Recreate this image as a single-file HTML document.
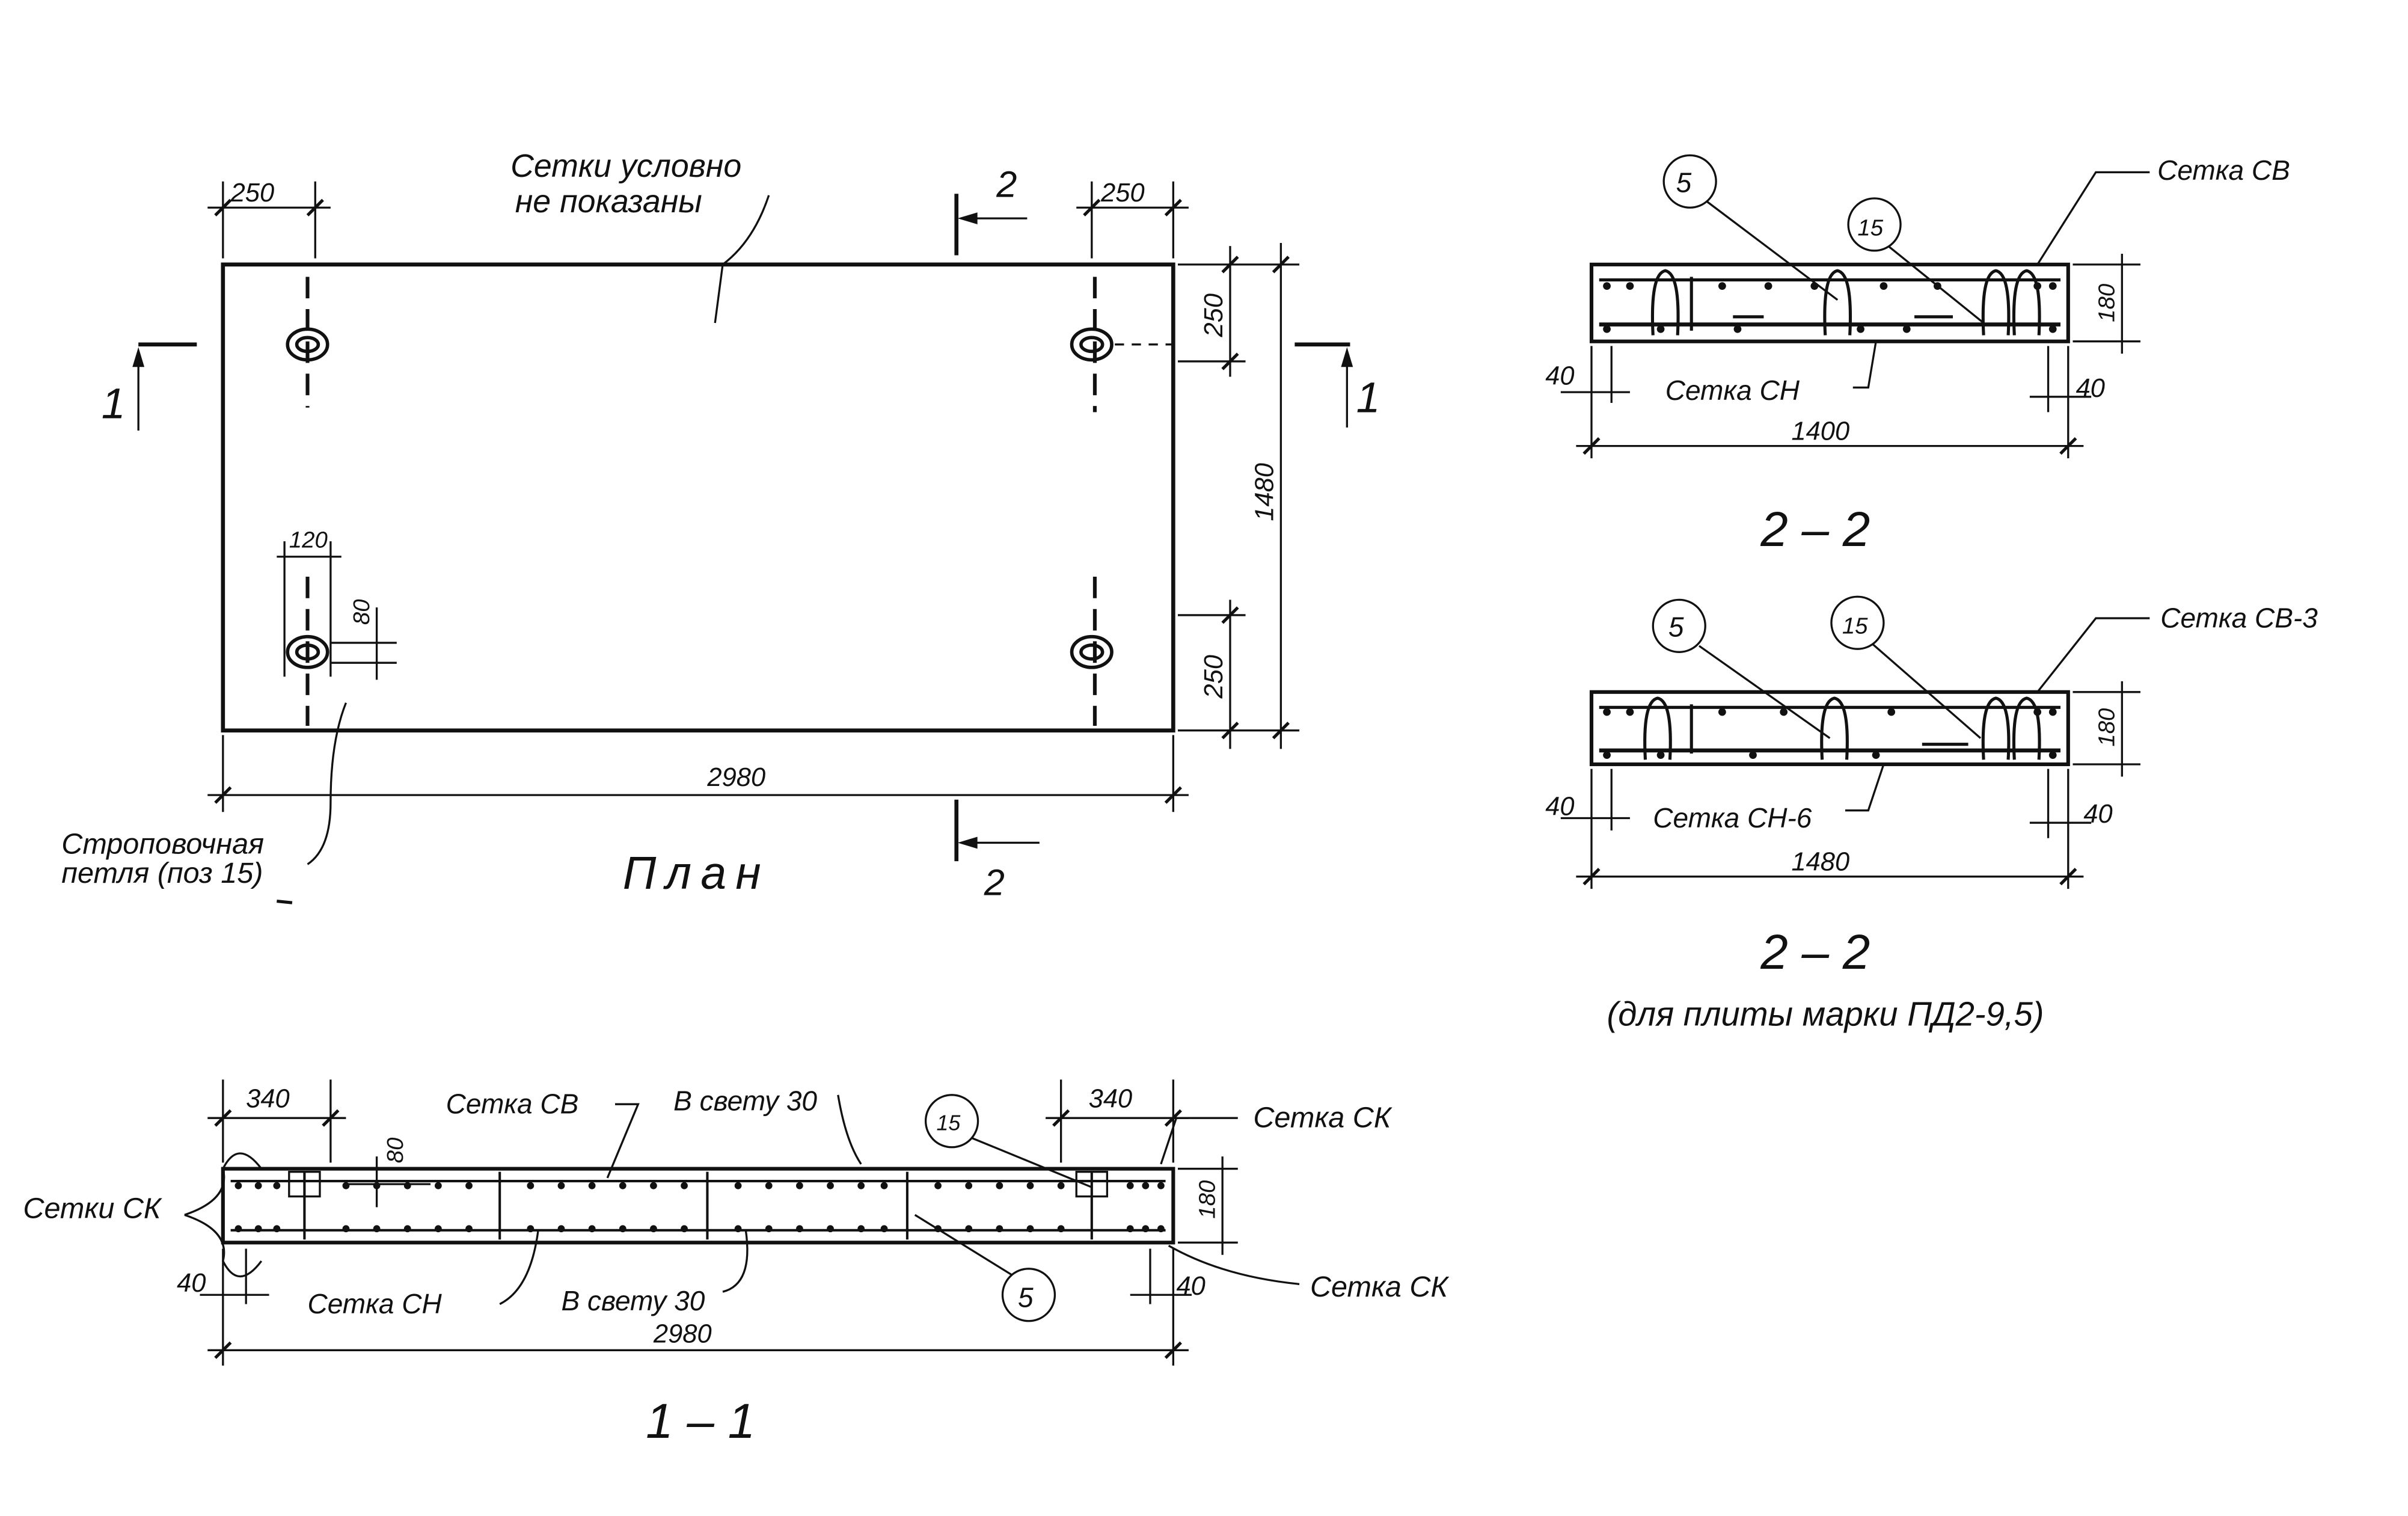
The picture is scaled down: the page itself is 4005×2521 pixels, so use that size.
<!DOCTYPE html>
<html><head><meta charset="utf-8"><style>
html,body{margin:0;padding:0;background:#fff;}
svg{display:block;}
text{font-family:"Liberation Sans",sans-serif;font-style:italic;fill:#111;}
</style></head><body>
<svg width="4005" height="2521" viewBox="0 0 1566 985.8" preserveAspectRatio="none" xmlns="http://www.w3.org/2000/svg">
<rect width="1566" height="985.8" fill="#fff"/>
<g stroke="#111" fill="none" stroke-width="1.3">
<rect x="145" y="172" width="618" height="303" stroke-width="2.6"/>
<line x1="145" y1="118" x2="145" y2="168"/><line x1="205" y1="118" x2="205" y2="168"/>
<line x1="710" y1="118" x2="710" y2="168"/><line x1="763" y1="118" x2="763" y2="168"/>
<line x1="135" y1="135" x2="215" y2="135"/><line x1="700" y1="135" x2="773" y2="135"/>
<line x1="140" y1="140" x2="150" y2="130" stroke-width="2"/><line x1="200" y1="140" x2="210" y2="130" stroke-width="2"/>
<line x1="705" y1="140" x2="715" y2="130" stroke-width="2"/><line x1="758" y1="140" x2="768" y2="130" stroke-width="2"/>
<line x1="622" y1="126" x2="622" y2="166" stroke-width="2.6"/><line x1="625" y1="142" x2="668" y2="142"/><path d="M625 142 l10 -3 v6z" fill="#111"/>
<line x1="622" y1="520" x2="622" y2="560" stroke-width="2.6"/><line x1="625" y1="548" x2="676" y2="548"/><path d="M625 548 l10 -3 v6z" fill="#111"/>
<line x1="145" y1="478" x2="145" y2="528"/><line x1="763" y1="478" x2="763" y2="528"/>
<line x1="135" y1="517" x2="773" y2="517"/>
<line x1="140" y1="522" x2="150" y2="512" stroke-width="2"/><line x1="758" y1="522" x2="768" y2="512" stroke-width="2"/>
<line x1="766" y1="172" x2="845" y2="172"/><line x1="766" y1="235" x2="810" y2="235"/>
<line x1="766" y1="400" x2="810" y2="400"/><line x1="766" y1="475" x2="845" y2="475"/>
<line x1="800" y1="160" x2="800" y2="245"/><line x1="800" y1="390" x2="800" y2="487"/>
<line x1="833" y1="158" x2="833" y2="487"/>
<line x1="795" y1="177" x2="805" y2="167" stroke-width="2"/><line x1="795" y1="240" x2="805" y2="230" stroke-width="2"/>
<line x1="795" y1="405" x2="805" y2="395" stroke-width="2"/><line x1="795" y1="480" x2="805" y2="470" stroke-width="2"/>
<line x1="828" y1="177" x2="838" y2="167" stroke-width="2"/><line x1="828" y1="480" x2="838" y2="470" stroke-width="2"/>
<g stroke-dasharray="14 7" stroke-width="2.4">
<line x1="200" y1="180" x2="200" y2="265"/><line x1="200" y1="375" x2="200" y2="472"/>
<line x1="712" y1="180" x2="712" y2="268"/><line x1="712" y1="375" x2="712" y2="472"/>
</g>
<line x1="725" y1="224" x2="765" y2="224" stroke-dasharray="6 5"/>
<g stroke-width="2.2">
<ellipse cx="200" cy="224" rx="13" ry="10"/><ellipse cx="200" cy="224" rx="7" ry="4.5"/>
<ellipse cx="710" cy="224" rx="13" ry="10"/><ellipse cx="710" cy="224" rx="7" ry="4.5"/>
<ellipse cx="200" cy="424" rx="13" ry="10"/><ellipse cx="200" cy="424" rx="7" ry="4.5"/>
<ellipse cx="710" cy="424" rx="13" ry="10"/><ellipse cx="710" cy="424" rx="7" ry="4.5"/>
</g>
<line x1="185" y1="352" x2="185" y2="440"/><line x1="215" y1="352" x2="215" y2="440"/>
<line x1="180" y1="362" x2="222" y2="362"/>
<line x1="215" y1="418" x2="258" y2="418"/><line x1="215" y1="431" x2="258" y2="431"/>
<line x1="245" y1="395" x2="245" y2="442"/>
<line x1="90" y1="224" x2="128" y2="224" stroke-width="2.6"/><line x1="90" y1="228" x2="90" y2="280"/><path d="M90 228 l-3 10 h6z" fill="#111"/>
<line x1="842" y1="224" x2="878" y2="224" stroke-width="2.6"/><line x1="876" y1="228" x2="876" y2="278"/><path d="M876 228 l-3 10 h6z" fill="#111"/>
<path d="M500 127 q-10 30 -30 45 l-5 38"/>
<path d="M200 562 q15 -10 15 -40 q0 -40 10 -65"/>
<line x1="180" y1="586" x2="190" y2="587" stroke-width="2"/>

<rect x="1035" y="172" width="310" height="50" stroke-width="2.4"/>
<line x1="1040" y1="182" x2="1340" y2="182" stroke-width="2"/>
<line x1="1040" y1="211" x2="1340" y2="211" stroke-width="2.6"/>
<g stroke-width="2">
<path d="M1075 218 q-2 -40 8 -42 q10 2 8 42"/><path d="M1187 218 q-2 -40 8 -42 q10 2 8 42"/>
<path d="M1290 218 q-2 -40 8 -42 q10 2 8 42"/><path d="M1310 218 q-2 -40 8 -42 q10 2 8 42"/>
<path d="M1100 180 v35"/><path d="M1127 206 h20 M1245 206 h25"/>
</g>
<circle cx="1099" cy="118" r="17"/><circle cx="1219" cy="146" r="17"/>
<line x1="1110" y1="131" x2="1195" y2="195"/><line x1="1228" y1="160" x2="1290" y2="210"/>
<path d="M1398 112 h-35 l-38 60"/>
<path d="M1220 222 l-5 30 h-10"/>
<line x1="1035" y1="225" x2="1035" y2="298"/><line x1="1345" y1="225" x2="1345" y2="298"/>
<line x1="1048" y1="225" x2="1048" y2="262"/><line x1="1332" y1="225" x2="1332" y2="268"/>
<line x1="1015" y1="255" x2="1060" y2="255"/><line x1="1320" y1="258" x2="1360" y2="258"/>
<line x1="1025" y1="290" x2="1355" y2="290"/>
<line x1="1030" y1="295" x2="1040" y2="285" stroke-width="2"/><line x1="1340" y1="295" x2="1350" y2="285" stroke-width="2"/>
<line x1="1348" y1="172" x2="1392" y2="172"/><line x1="1348" y1="222" x2="1392" y2="222"/>
<line x1="1380" y1="165" x2="1380" y2="230"/>

<rect x="1035" y="450" width="310" height="47" stroke-width="2.4"/>
<line x1="1040" y1="460" x2="1340" y2="460" stroke-width="2"/>
<line x1="1040" y1="488" x2="1340" y2="488" stroke-width="2.6"/>
<g stroke-width="2">
<path d="M1070 494 q-2 -38 8 -40 q10 2 8 40"/><path d="M1185 494 q-2 -38 8 -40 q10 2 8 40"/>
<path d="M1290 494 q-2 -38 8 -40 q10 2 8 40"/><path d="M1310 494 q-2 -38 8 -40 q10 2 8 40"/>
<path d="M1100 458 v32 M1250 484 h30"/>
</g>
<circle cx="1092" cy="407" r="17"/><circle cx="1208" cy="405" r="17"/>
<line x1="1105" y1="420" x2="1190" y2="480"/><line x1="1218" y1="419" x2="1288" y2="480"/>
<path d="M1398 402 h-35 l-38 48"/>
<path d="M1225 497 l-10 30 h-15"/>
<line x1="1035" y1="500" x2="1035" y2="578"/><line x1="1345" y1="500" x2="1345" y2="578"/>
<line x1="1048" y1="500" x2="1048" y2="540"/><line x1="1332" y1="500" x2="1332" y2="545"/>
<line x1="1015" y1="532" x2="1060" y2="532"/><line x1="1320" y1="535" x2="1360" y2="535"/>
<line x1="1025" y1="570" x2="1355" y2="570"/>
<line x1="1030" y1="575" x2="1040" y2="565" stroke-width="2"/><line x1="1340" y1="575" x2="1350" y2="565" stroke-width="2"/>
<line x1="1348" y1="450" x2="1392" y2="450"/><line x1="1348" y1="497" x2="1392" y2="497"/>
<line x1="1380" y1="443" x2="1380" y2="505"/>

<rect x="145" y="760" width="618" height="48" stroke-width="2.4"/>
<line x1="150" y1="768" x2="758" y2="768" stroke-width="1.6"/>
<line x1="150" y1="800" x2="758" y2="800" stroke-width="1.6"/>
<g stroke-width="1.6"><line x1="198" y1="762" x2="198" y2="806"/><line x1="325" y1="762" x2="325" y2="806"/>
<line x1="460" y1="762" x2="460" y2="806"/><line x1="590" y1="762" x2="590" y2="806"/><line x1="710" y1="762" x2="710" y2="806"/></g>
<rect x="188" y="762" width="20" height="16"/><rect x="700" y="762" width="20" height="16"/>
<line x1="145" y1="702" x2="145" y2="756"/><line x1="215" y1="702" x2="215" y2="756"/>
<line x1="690" y1="702" x2="690" y2="756"/><line x1="763" y1="702" x2="763" y2="756"/>
<line x1="135" y1="727" x2="225" y2="727"/><line x1="680" y1="727" x2="773" y2="727"/>
<line x1="140" y1="732" x2="150" y2="722" stroke-width="2"/><line x1="210" y1="732" x2="220" y2="722" stroke-width="2"/>
<line x1="685" y1="732" x2="695" y2="722" stroke-width="2"/><line x1="758" y1="732" x2="768" y2="722" stroke-width="2"/>
<line x1="245" y1="752" x2="245" y2="785"/><line x1="225" y1="770" x2="280" y2="770"/>
<path d="M400 718 h15 l-20 48"/>
<path d="M545 712 q5 30 15 45"/>
<circle cx="619" cy="729" r="17"/><line x1="632" y1="740" x2="710" y2="772"/>
<path d="M805 727 h-40 l-10 30"/>
<path d="M120 790 q30 -10 25 -30 q10 -20 25 0 M120 790 q30 10 25 30 q10 20 25 0"/>
<path d="M325 848 q20 -10 25 -48"/>
<path d="M470 840 q20 -5 15 -40"/>
<circle cx="669" cy="842" r="17"/><line x1="658" y1="829" x2="595" y2="790"/>
<path d="M845 835 q-50 -5 -85 -25"/>
<line x1="145" y1="812" x2="145" y2="888"/><line x1="763" y1="812" x2="763" y2="888"/>
<line x1="160" y1="812" x2="160" y2="848"/><line x1="748" y1="812" x2="748" y2="848"/>
<line x1="130" y1="842" x2="175" y2="842"/><line x1="735" y1="842" x2="775" y2="842"/>
<line x1="135" y1="878" x2="773" y2="878"/>
<line x1="140" y1="883" x2="150" y2="873" stroke-width="2"/><line x1="758" y1="883" x2="768" y2="873" stroke-width="2"/>
<line x1="766" y1="760" x2="805" y2="760"/><line x1="766" y1="808" x2="805" y2="808"/>
<line x1="795" y1="752" x2="795" y2="816"/>
</g>
<g fill="#111">
<circle cx="1045" cy="186" r="2.5"/><circle cx="1060" cy="186" r="2.5"/><circle cx="1120" cy="186" r="2.5"/><circle cx="1150" cy="186" r="2.5"/><circle cx="1180" cy="186" r="2.5"/><circle cx="1225" cy="186" r="2.5"/><circle cx="1260" cy="186" r="2.5"/><circle cx="1325" cy="186" r="2.5"/><circle cx="1335" cy="186" r="2.5"/>
<circle cx="1045" cy="214" r="2.5"/><circle cx="1080" cy="214" r="2.5"/><circle cx="1130" cy="214" r="2.5"/><circle cx="1210" cy="214" r="2.5"/><circle cx="1240" cy="214" r="2.5"/><circle cx="1335" cy="214" r="2.5"/>
<circle cx="1045" cy="463" r="2.5"/><circle cx="1060" cy="463" r="2.5"/><circle cx="1120" cy="463" r="2.5"/><circle cx="1160" cy="463" r="2.5"/><circle cx="1230" cy="463" r="2.5"/><circle cx="1325" cy="463" r="2.5"/><circle cx="1335" cy="463" r="2.5"/>
<circle cx="1045" cy="491" r="2.5"/><circle cx="1080" cy="491" r="2.5"/><circle cx="1140" cy="491" r="2.5"/><circle cx="1220" cy="491" r="2.5"/><circle cx="1335" cy="491" r="2.5"/>
</g>
<g fill="#111">
<circle cx="155" cy="771" r="2.3"/><circle cx="168" cy="771" r="2.3"/><circle cx="180" cy="771" r="2.3"/>
<circle cx="225" cy="771" r="2.3"/><circle cx="245" cy="771" r="2.3"/><circle cx="265" cy="771" r="2.3"/><circle cx="285" cy="771" r="2.3"/><circle cx="305" cy="771" r="2.3"/><circle cx="345" cy="771" r="2.3"/><circle cx="365" cy="771" r="2.3"/><circle cx="385" cy="771" r="2.3"/><circle cx="405" cy="771" r="2.3"/><circle cx="425" cy="771" r="2.3"/><circle cx="445" cy="771" r="2.3"/><circle cx="480" cy="771" r="2.3"/><circle cx="500" cy="771" r="2.3"/><circle cx="520" cy="771" r="2.3"/><circle cx="540" cy="771" r="2.3"/><circle cx="560" cy="771" r="2.3"/><circle cx="575" cy="771" r="2.3"/><circle cx="610" cy="771" r="2.3"/><circle cx="630" cy="771" r="2.3"/><circle cx="650" cy="771" r="2.3"/><circle cx="670" cy="771" r="2.3"/><circle cx="690" cy="771" r="2.3"/><circle cx="735" cy="771" r="2.3"/><circle cx="745" cy="771" r="2.3"/><circle cx="755" cy="771" r="2.3"/>
<circle cx="155" cy="799" r="2.3"/><circle cx="168" cy="799" r="2.3"/><circle cx="180" cy="799" r="2.3"/>
<circle cx="225" cy="799" r="2.3"/><circle cx="245" cy="799" r="2.3"/><circle cx="265" cy="799" r="2.3"/><circle cx="285" cy="799" r="2.3"/><circle cx="305" cy="799" r="2.3"/><circle cx="345" cy="799" r="2.3"/><circle cx="365" cy="799" r="2.3"/><circle cx="385" cy="799" r="2.3"/><circle cx="405" cy="799" r="2.3"/><circle cx="425" cy="799" r="2.3"/><circle cx="445" cy="799" r="2.3"/><circle cx="480" cy="799" r="2.3"/><circle cx="500" cy="799" r="2.3"/><circle cx="520" cy="799" r="2.3"/><circle cx="540" cy="799" r="2.3"/><circle cx="560" cy="799" r="2.3"/><circle cx="575" cy="799" r="2.3"/><circle cx="610" cy="799" r="2.3"/><circle cx="630" cy="799" r="2.3"/><circle cx="650" cy="799" r="2.3"/><circle cx="670" cy="799" r="2.3"/><circle cx="690" cy="799" r="2.3"/><circle cx="735" cy="799" r="2.3"/><circle cx="745" cy="799" r="2.3"/><circle cx="755" cy="799" r="2.3"/>
</g>
<g font-size="17">
<text x="150" y="131">250</text><text x="716" y="131">250</text>
<text x="648" y="128" font-size="24">2</text><text x="640" y="582" font-size="24">2</text>
<text x="460" y="511">2980</text>
<text transform="translate(795,205) rotate(-90)" text-anchor="middle">250</text>
<text transform="translate(795,440) rotate(-90)" text-anchor="middle">250</text>
<text transform="translate(828,320) rotate(-90)" text-anchor="middle">1480</text>
<text x="188" y="356" font-size="15">120</text>
<text transform="translate(240,398) rotate(-90)" text-anchor="middle" font-size="15">80</text>
<text x="66" y="272" font-size="28">1</text><text x="882" y="268" font-size="28">1</text>
<text x="332" y="115" font-size="21">Сетки условно</text><text x="335" y="138" font-size="21">не показаны</text>
<text x="40" y="555" font-size="19">Строповочная</text><text x="40" y="574" font-size="19">петля (поз 15)</text>
<text x="405" y="578" font-size="30" letter-spacing="6">План</text>

<text x="1090" y="125" font-size="18">5</text><text x="1208" y="153" font-size="15">15</text>
<text x="1403" y="117" font-size="18">Сетка СВ</text>
<text x="1083" y="260" font-size="18">Сетка СН</text>
<text x="1005" y="250">40</text><text x="1350" y="258">40</text>
<text transform="translate(1375,197) rotate(-90)" text-anchor="middle" font-size="15">180</text>
<text x="1165" y="286">1400</text>
<text x="1145" y="355" font-size="32">2 – 2</text>

<text x="1085" y="414" font-size="18">5</text><text x="1198" y="412" font-size="15">15</text>
<text x="1405" y="408" font-size="18">Сетка СВ-3</text>
<text x="1075" y="538" font-size="18">Сетка СН-6</text>
<text x="1005" y="530">40</text><text x="1355" y="535">40</text>
<text transform="translate(1375,473) rotate(-90)" text-anchor="middle" font-size="15">180</text>
<text x="1165" y="566">1480</text>
<text x="1145" y="630" font-size="32">2 – 2</text>
<text x="1045" y="667" font-size="22">(для плиты марки ПД2-9,5)</text>

<text x="160" y="720">340</text><text x="708" y="720">340</text>
<text x="290" y="724" font-size="18">Сетка СВ</text><text x="438" y="722" font-size="18">В свету 30</text>
<text x="609" y="735" font-size="14">15</text>
<text x="815" y="733" font-size="19">Сетка СК</text>
<text x="15" y="792" font-size="19">Сетки СК</text>
<text transform="translate(262,748) rotate(-90)" text-anchor="middle" font-size="15">80</text>
<text transform="translate(790,780) rotate(-90)" text-anchor="middle" font-size="15">180</text>
<text x="115" y="840">40</text><text x="765" y="842">40</text>
<text x="200" y="854" font-size="18">Сетка СН</text><text x="365" y="852" font-size="18">В свету 30</text>
<text x="662" y="850" font-size="18">5</text>
<text x="852" y="843" font-size="19">Сетка СК</text>
<text x="425" y="873">2980</text>
<text x="420" y="935" font-size="32">1 – 1</text>
</g>
</svg>
</body></html>
